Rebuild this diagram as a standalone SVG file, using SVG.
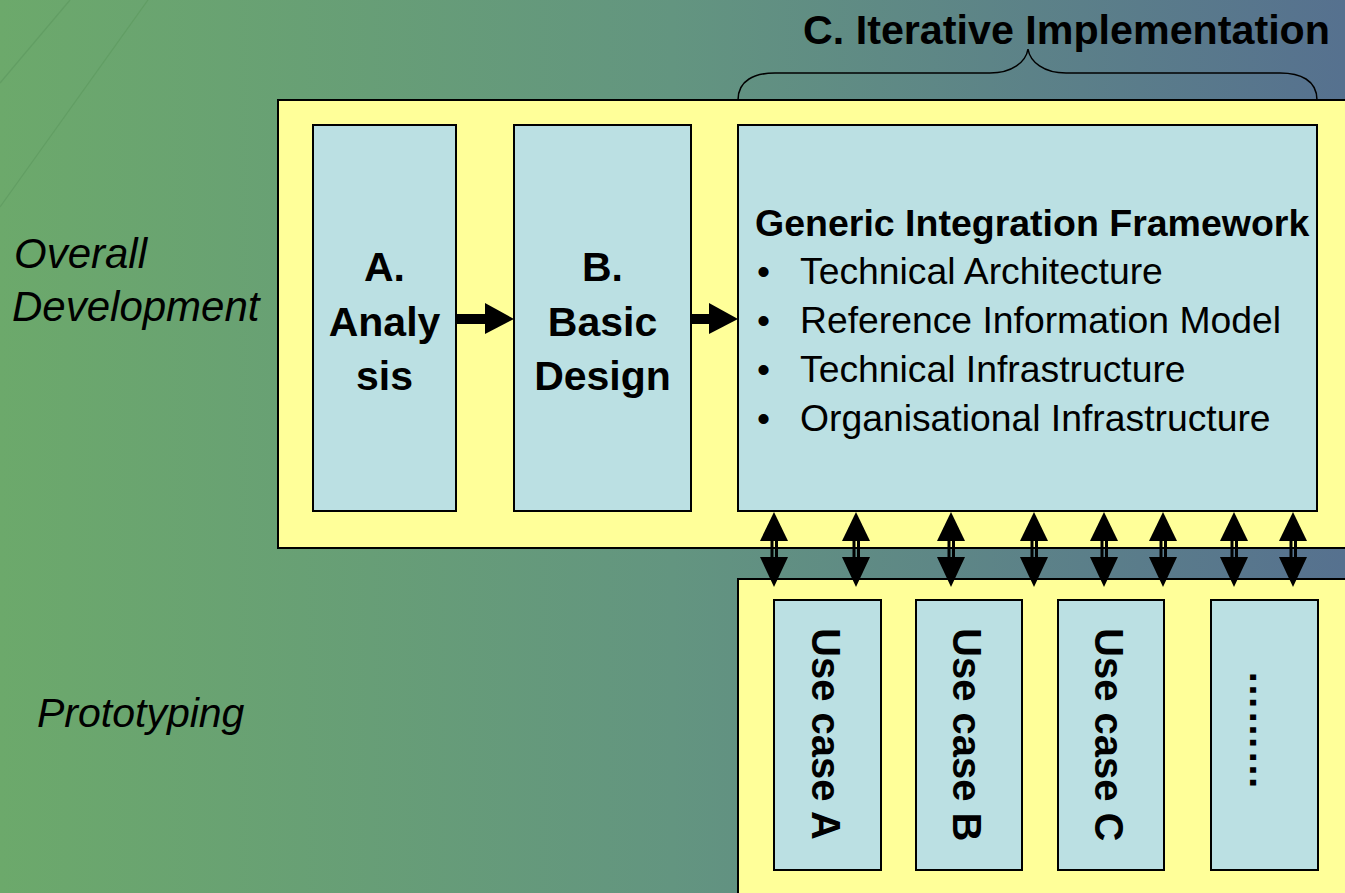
<svg xmlns="http://www.w3.org/2000/svg" width="1345" height="893" viewBox="0 0 1345 893">
<defs>
<linearGradient id="bg" x1="0" y1="0" x2="1" y2="0">
<stop offset="0" stop-color="#6ca96b"/>
<stop offset="0.5" stop-color="#639580"/>
<stop offset="1" stop-color="#56718f"/>
</linearGradient>
<g id="dbl">
<rect x="-3.5" y="540" width="3" height="18" fill="#000"/>
<rect x="1" y="540" width="3" height="18" fill="#000"/>
<polygon points="0,512 14,541 -14,541" fill="#000"/>
<polygon points="0,587 14,557 -14,557" fill="#000"/>
</g>
</defs>
<style>
.t{font-family:"Liberation Sans",Arial,sans-serif;fill:#000}
.b{font-weight:bold}
.i{font-style:italic}
.yel{fill:#ffff99;stroke:#000;stroke-width:2}
.box{fill:#bbe0e3;stroke:#000;stroke-width:2}
</style>
<rect x="0" y="0" width="1345" height="893" fill="url(#bg)"/>
<g stroke="#609c62" stroke-width="1.2" opacity="0.8">
<line x1="0" y1="83" x2="70" y2="0"/>
<line x1="0" y1="207" x2="148" y2="0"/>
</g>

<g id="labels">
<text class="t i" x="14" y="268" font-size="42">Overall</text>
<text class="t i" x="12" y="321" font-size="42">Development</text>
<text class="t i" x="37" y="727" font-size="41">Prototyping</text>
</g>

<g id="title">
<text class="t b" x="803" y="44" font-size="41" textLength="527" lengthAdjust="spacingAndGlyphs">C. Iterative Implementation</text>
<path d="M738,100 C738,80 755,73 775,73 L990,73 C1012,73 1026,62 1028,49 C1030,62 1044,73 1066,73 L1280,73 C1300,73 1317,80 1317,100" fill="none" stroke="#000" stroke-width="1.5"/>
</g>

<g id="overall">
<rect class="yel" x="278" y="100" width="1080" height="448"/>
</g>
<g id="prototyping">
<rect class="yel" x="738" y="579" width="620" height="330"/>
</g>

<g id="nodeA">
<rect class="box" x="313" y="125" width="143" height="386"/>
<text class="t b" font-size="41" text-anchor="middle" x="384.5" y="281">A.</text>
<text class="t b" font-size="41" text-anchor="middle" x="384.5" y="336">Analy</text>
<text class="t b" font-size="41" text-anchor="middle" x="384.5" y="390">sis</text>
</g>

<g id="nodeB">
<rect class="box" x="514" y="125" width="177" height="386"/>
<text class="t b" font-size="41" text-anchor="middle" x="602.5" y="281">B.</text>
<text class="t b" font-size="41" text-anchor="middle" x="602.5" y="336">Basic</text>
<text class="t b" font-size="41" text-anchor="middle" x="602.5" y="390">Design</text>
</g>

<g id="nodeC">
<rect class="box" x="738" y="125" width="579" height="386"/>
<text class="t b" font-size="37.5" x="755" y="236">Generic Integration Framework</text>
<g class="t" font-size="37.3">
<text x="757" y="284">•</text><text x="800" y="284">Technical Architecture</text>
<text x="757" y="333">•</text><text x="800" y="333">Reference Information Model</text>
<text x="757" y="382">•</text><text x="800" y="382">Technical Infrastructure</text>
<text x="757" y="431">•</text><text x="800" y="431">Organisational Infrastructure</text>
</g>
</g>

<g id="useCaseA">
<rect class="box" x="774" y="600" width="107" height="270"/>
<text class="t b" font-size="40" transform="translate(812,628) rotate(90)">Use case A</text>
</g>
<g id="useCaseB">
<rect class="box" x="916" y="600" width="106" height="270"/>
<text class="t b" font-size="40" transform="translate(953,628) rotate(90)">Use case B</text>
</g>
<g id="useCaseC">
<rect class="box" x="1058" y="600" width="106" height="270"/>
<text class="t b" font-size="40" transform="translate(1095,628) rotate(90)">Use case C</text>
</g>
<g id="useCaseMore">
<rect class="box" x="1211" y="600" width="107" height="270"/>
<text class="t b" font-size="40" transform="translate(1250,670) rotate(90)">………</text>
</g>

<g id="connectors">
<rect x="456" y="314" width="31" height="10" fill="#000"/>
<polygon points="485,303 514,319 485,334" fill="#000"/>
<rect x="691" y="314" width="20" height="10" fill="#000"/>
<polygon points="709,303 738,319 709,334" fill="#000"/>
<use href="#dbl" x="774"/>
<use href="#dbl" x="856"/>
<use href="#dbl" x="951"/>
<use href="#dbl" x="1034"/>
<use href="#dbl" x="1104"/>
<use href="#dbl" x="1163"/>
<use href="#dbl" x="1234"/>
<use href="#dbl" x="1293"/>
</g>
</svg>
